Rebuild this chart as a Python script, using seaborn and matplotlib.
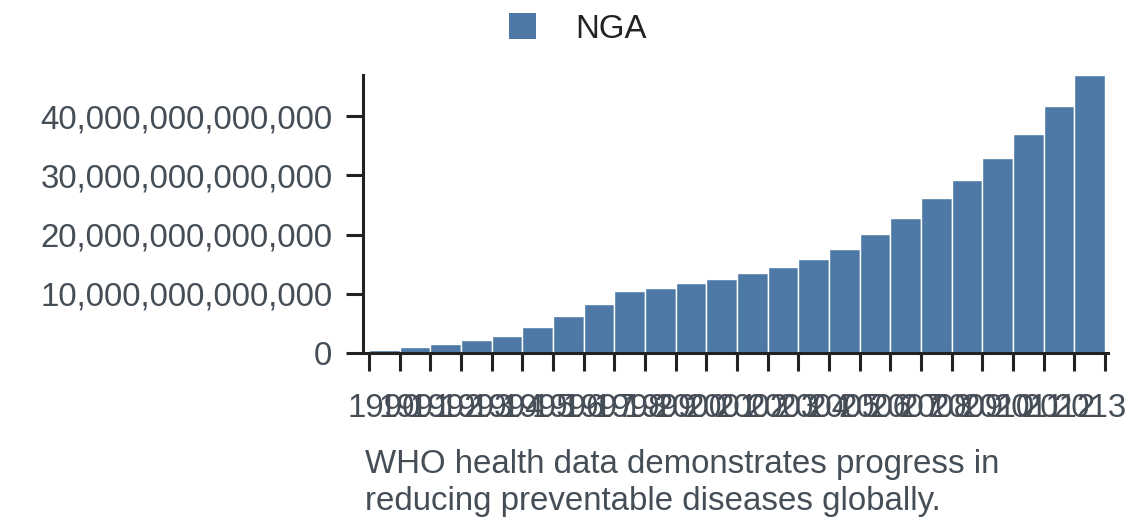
import matplotlib
matplotlib.use("Agg")
import matplotlib.pyplot as plt
from matplotlib.ticker import FuncFormatter, FixedLocator
import pandas as pd
import seaborn as sns

years = list(range(1990, 2014))
values = [0.45e12, 1.07e12, 1.58e12, 2.14e12, 2.93e12, 4.39e12, 6.24e12, 8.27e12,
          10.46e12, 11.03e12, 11.76e12, 12.49e12, 13.45e12, 14.51e12, 15.86e12, 17.61e12,
          20.03e12, 22.78e12, 26.22e12, 29.25e12, 32.91e12, 37.07e12, 41.74e12, 46.98e12]
country = "NGA"
caption = "WHO health data demonstrates progress in\nreducing preventable diseases globally."

BAR = "#4e79a7"
TXT = "#454d56"
AXC = "#222222"

sns.set_theme(style="white")
plt.rcParams["font.family"] = ["Liberation Sans", "DejaVu Sans"]

df = pd.DataFrame({"year": [str(y) for y in years], "value": values, "country": country})

fig = plt.figure(figsize=(11.4, 5.28), dpi=100)
ax = fig.add_axes([363 / 1140, (528 - 353) / 528, (1108 - 363) / 1140, (353 - 75) / 528])

sns.barplot(data=df, x="year", y="value", hue="country", palette=[BAR], saturation=1,
            width=1.0, edgecolor="white", linewidth=1, ax=ax, legend=False)

ax.set_xlim(-0.7, len(years) - 0.4)
ax.set_ylim(0, max(values))
ax.set_xlabel("")
ax.set_ylabel("")

ax.yaxis.set_major_formatter(FuncFormatter(lambda v, p: f"{v:,.0f}"))
ax.set_yticks([0, 10e12, 20e12, 30e12, 40e12])

# ticks on band edges, labels at band centres
ax.xaxis.set_major_locator(FixedLocator([i - 0.5 for i in range(len(years) + 1)]))
ax.xaxis.set_major_formatter(FuncFormatter(lambda v, p: ""))
ax.xaxis.set_minor_locator(FixedLocator(list(range(len(years)))))
ax.set_xticklabels([str(y) for y in years], minor=True)

ax.tick_params(axis="x", which="major", length=13, width=2.2, color=AXC, direction="out", bottom=True)
ax.tick_params(axis="x", which="minor", length=0, pad=29, labelsize=23.8, labelcolor=TXT, bottom=True)
ax.tick_params(axis="y", length=12, width=2.2, color=AXC, pad=10, labelsize=23.8, labelcolor=TXT, left=True)

sns.despine(ax=ax)
for s in ("left", "bottom"):
    ax.spines[s].set_color(AXC)
    ax.spines[s].set_linewidth(2.2)

handles = [plt.Rectangle((0, 0), 1, 1, facecolor=BAR, edgecolor="none")]
fig.legend(handles, [country], loc="center", bbox_to_anchor=(578 / 1140, 1 - 29 / 528),
           frameon=False, fontsize=23.8, handlelength=0.8, handleheight=0.8,
           handletextpad=1.2, labelcolor="#222222")

fig.text(365 / 1140, 1 - 483 / 528, caption, fontsize=23.8, color=TXT,
         ha="left", va="center", linespacing=1.22)

fig.savefig("out.png", dpi=100)
